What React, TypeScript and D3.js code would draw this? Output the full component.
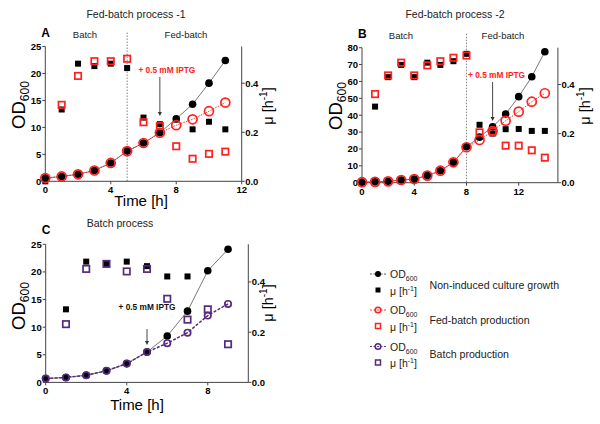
import React from "react";
import * as d3 from "d3";

// ---------- DATA ----------
const hoursA = [0, 1, 2, 3, 4, 5, 6, 7, 8, 9, 10, 11];
const odA_nonInduced = [0.6, 0.9, 1.3, 2.0, 3.4, 5.6, 7.1, 9.0, 11.6, 14.3, 18.2, 22.4];
const odA_fedBatch = [0.6, 0.9, 1.3, 2.0, 3.4, 5.6, 7.1, 9.0, 10.4, 11.5, 13.0, 14.6];
const muA_nonInduced = [0, 0.293, 0.48, 0.47, 0.48, 0.462, 0.26, 0.233, 0.252, 0.212, 0.243, 0.212];
const muHoursA_fed = [1, 2, 3, 4, 5, 6, 7, 8, 9, 10, 11];
const muA_fedBatch = [0.312, 0.43, 0.49, 0.49, 0.5, 0.241, 0.225, 0.143, 0.092, 0.112, 0.121];

const hoursB = [0, 1, 2, 3, 4, 5, 6, 7, 8, 9, 10, 11, 12, 13, 14];
const odB_nonInduced = [0.3, 0.5, 0.8, 1.6, 2.2, 4.2, 7.1, 12.1, 21.3, 27.0, 33.2, 40.7, 51.0, 62.8, 77.6];
const odB_fedBatch = [0.3, 0.5, 0.8, 1.6, 2.2, 4.2, 7.1, 12.1, 21.0, 25.3, 30.6, 36.7, 42.1, 48.0, 53.0];
const muHoursB = [1, 2, 3, 4, 5, 6, 7, 8, 9, 10, 11, 12, 13, 14];
const muB_nonInduced = [0.31, 0.43, 0.48, 0.43, 0.489, 0.48, 0.495, 0.525, 0.236, 0.2, 0.218, 0.219, 0.211, 0.211];
const muB_fedBatch = [0.361, 0.437, 0.489, 0.437, 0.478, 0.495, 0.509, 0.518, 0.205, 0.209, 0.151, 0.151, 0.132, 0.102];

const hoursC = [0, 1, 2, 3, 4, 5, 6, 7, 8, 9];
const odC_nonInduced = [0.7, 0.9, 1.3, 2.1, 3.4, 5.5, 8.4, 12.9, 20.2, 24.1];
const odC_batch = [0.7, 0.9, 1.3, 2.1, 3.4, 5.5, 7.1, 9.0, 12.1, 14.2];
const muHoursC_non = [1, 2, 3, 4, 5, 6, 7];
const muC_nonInduced = [0.291, 0.481, 0.472, 0.481, 0.463, 0.422, 0.422];
const muHoursC_batch = [1, 2, 3, 4, 5, 6, 7, 8, 9];
const muC_batch = [0.232, 0.452, 0.472, 0.442, 0.452, 0.333, 0.25, 0.291, 0.152];

const xTicksA = [0, 4, 8, 12];
const xTicksB = [0, 4, 8, 12];
const xTicksC = [0, 4, 8];
const yTicksA = [0, 5, 10, 15, 20, 25];
const yTicksB = [0, 10, 20, 30, 40, 50, 60, 70, 80];
const yTicksC = [0, 5, 10, 15, 20, 25];
const muTicks = [0.0, 0.2, 0.4];

const legendGroups = ["Non-induced culture growth", "Fed-batch production", "Batch production"];

// ---------- STYLE ----------
const FONT = "'Liberation Sans', Arial, Helvetica, sans-serif";
const BLACK = "#000";
const RED = "#ff2020";
const PURPLE = "#552a80";

type Series = {
  xs: number[];
  ys: number[];
  kind: "od" | "mu";
  color: string;
  filled: boolean;
  line?: { color: string; dash: string; width: number };
  r?: number;
};

type PanelProps = {
  x0: number; x1: number; y0: number; y1: number;
  xMax: number; yMax: number; muMax: number;
  xTicks: number[]; yTicks: number[];
  series: Series[];
  letter: string; title: string; titleX: number; titleY: number;
  phaseX?: number; batchX?: number; fedX?: number;
  iptgX: number; iptgDx: number; iptgTextY: number; arrowY0: number; arrowY1: number; iptgColor: string;
  timeLabelX?: number; timeLabelY?: number;
  odLabelX: number; odLabelY: number; muLabelX: number; muLabelY: number;
};

function Panel(p: PanelProps) {
  const xs = d3.scaleLinear().domain([0, p.xMax]).range([p.x0, p.x1]);
  const ys = d3.scaleLinear().domain([0, p.yMax]).range([p.y1, p.y0]);
  const ms = d3.scaleLinear().domain([0, p.muMax]).range([p.y1, p.y0]);

  const lines = p.series.filter((s) => s.line).map((s, i) => {
    const gen = d3.line<number>().x((_, j) => xs(s.xs[j])).y((v) => ys(v));
    return (
      <path key={"l" + i} d={gen(s.ys) || ""} fill="none" stroke={s.line!.color}
        strokeWidth={s.line!.width} strokeDasharray={s.line!.dash} />
    );
  });

  const marks = p.series.map((s, i) =>
    s.ys.map((v, j) => {
      const cx = xs(s.xs[j]);
      if (s.kind === "od") {
        const cy = ys(v);
        const r = s.r ?? 3.8;
        return s.filled ? (
          <circle key={`m${i}-${j}`} cx={cx} cy={cy} r={r} fill={s.color} />
        ) : (
          <circle key={`m${i}-${j}`} cx={cx} cy={cy} r={r} fill="none" stroke={s.color} strokeWidth={1.7} />
        );
      }
      const cy = ms(v);
      return s.filled ? (
        <rect key={`m${i}-${j}`} x={cx - 3} y={cy - 3} width={6} height={6} fill={s.color} />
      ) : (
        <rect key={`m${i}-${j}`} x={cx - 3.2} y={cy - 3.2} width={6.4} height={6.4} fill="none" stroke={s.color} strokeWidth={1.7} />
      );
    })
  );

  return (
    <g fontFamily={FONT}>
      <text x={p.titleX} y={p.titleY} fontSize={10.5} textAnchor="middle" fill="#222">{p.title}</text>
      <text x={p.x0 - 4} y={p.y0 - 10} fontSize={12} fontWeight="bold">{p.letter}</text>
      {p.phaseX !== undefined && (
        <>
          <line x1={xs(p.phaseX)} x2={xs(p.phaseX)} y1={p.y0 - 14} y2={p.y1} stroke="#777" strokeWidth={0.9} strokeDasharray="1.5,1.5" />
          <text x={p.batchX} y={p.y0 - 9} fontSize={9.5} textAnchor="middle" fill="#222">Batch</text>
          <text x={p.fedX} y={p.y0 - 9} fontSize={9.5} textAnchor="middle" fill="#222">Fed-batch</text>
        </>
      )}
      {/* axes */}
      <line x1={p.x0} x2={p.x0} y1={p.y0} y2={p.y1} stroke="#444" strokeWidth={1} />
      <line x1={p.x1} x2={p.x1} y1={p.y0} y2={p.y1} stroke="#444" strokeWidth={1} />
      <line x1={p.x0} x2={p.x1} y1={p.y1} y2={p.y1} stroke="#444" strokeWidth={1} />
      {p.yTicks.map((t) => (
        <g key={"yt" + t}>
          <line x1={p.x0 - 3} x2={p.x0} y1={ys(t)} y2={ys(t)} stroke="#444" />
          <text x={p.x0 - 4} y={ys(t) + 3.4} fontSize={9.5} fontWeight="bold" textAnchor="end">{t}</text>
        </g>
      ))}
      {muTicks.map((t) => (
        <g key={"mt" + t}>
          <line x1={p.x1} x2={p.x1 + 3} y1={ms(t)} y2={ms(t)} stroke="#444" />
          <text x={p.x1 + 3.5} y={ms(t) + 3.4} fontSize={9.5} fontWeight="bold">{t.toFixed(1)}</text>
        </g>
      ))}
      {p.xTicks.map((t) => (
        <g key={"xt" + t}>
          <line x1={xs(t)} x2={xs(t)} y1={p.y1} y2={p.y1 + 3} stroke="#444" />
          <text x={xs(t)} y={p.y1 + 12} fontSize={9.5} fontWeight="bold" textAnchor="middle">{t}</text>
        </g>
      ))}
      {/* axis labels */}
      <text transform={`translate(${p.odLabelX},${p.odLabelY}) rotate(-90)`} fontSize={18.5} textAnchor="middle">
        OD<tspan fontSize={12} dy={4}>600</tspan>
      </text>
      <text transform={`translate(${p.muLabelX},${p.muLabelY}) rotate(-90)`} fontSize={14.5} textAnchor="middle">
        μ [h<tspan fontSize={10} dy={-6}>-1</tspan><tspan dy={6}>]</tspan>
      </text>
      {p.timeLabelY !== undefined && (
        <text x={p.timeLabelX} y={p.timeLabelY} fontSize={15} textAnchor="middle">Time [h]</text>
      )}
      {lines}
      {marks}
      {/* IPTG annotation */}
      <text x={xs(p.iptgX) + p.iptgDx} y={p.iptgTextY} fontSize={8.3} fontWeight="bold" textAnchor="middle" fill={p.iptgColor}>+ 0.5 mM IPTG</text>
      <line x1={xs(p.iptgX)} x2={xs(p.iptgX)} y1={p.arrowY0} y2={p.arrowY1 - 3} stroke="#333" strokeWidth={0.9} />
      <path d={`M${xs(p.iptgX) - 2},${p.arrowY1 - 4} L${xs(p.iptgX) + 2},${p.arrowY1 - 4} L${xs(p.iptgX)},${p.arrowY1} Z`} fill="#333" />
    </g>
  );
}

const blackLine = { color: "#555", dash: "", width: 0.8 };
const redLine = { color: RED, dash: "1.5,1.2", width: 0.9 };
const purpleLine = { color: PURPLE, dash: "3,1.5", width: 1.5 };

export default function App() {
  const legendX = 378;
  const rows = [
    { y: 274, color: BLACK, line: "#444", filledC: true, filledS: true, labelY: 289 },
    { y: 310, color: RED, line: RED, filledC: false, filledS: false, labelY: 323.5 },
    { y: 346.5, color: PURPLE, line: PURPLE, filledC: false, filledS: false, labelY: 358 },
  ];
  return (
    <svg width={600} height={424} style={{ position: "absolute", left: 0, top: 0 }}>
      <rect width={600} height={424} fill="#fff" />
      <Panel
        x0={45.3} x1={241.7} y0={46.5} y1={181.3} xMax={12} yMax={25} muMax={0.55}
        xTicks={xTicksA} yTicks={yTicksA}
        series={[
          { xs: hoursA, ys: odA_nonInduced, kind: "od", color: BLACK, filled: true, line: blackLine, r: 3.8 },
          { xs: hoursA, ys: muA_nonInduced, kind: "mu", color: BLACK, filled: true },
          { xs: hoursA, ys: odA_fedBatch, kind: "od", color: RED, filled: false, line: redLine, r: 4.5 },
          { xs: muHoursA_fed, ys: muA_fedBatch, kind: "mu", color: RED, filled: false },
        ]}
        letter="A" title="Fed-batch process -1" titleX={136} titleY={17.5}
        phaseX={5} batchX={85} fedX={186}
        iptgX={7} iptgDx={7} iptgTextY={73} arrowY0={77} arrowY1={116} iptgColor={RED}
        timeLabelX={141} timeLabelY={206} odLabelX={25} odLabelY={105} muLabelX={273} muLabelY={106}
      />
      <Panel
        x0={362} x1={557.9} y0={47.7} y1={182.7} xMax={15} yMax={80} muMax={0.55}
        xTicks={xTicksB} yTicks={yTicksB}
        series={[
          { xs: hoursB, ys: odB_nonInduced, kind: "od", color: BLACK, filled: true, line: blackLine, r: 3.8 },
          { xs: muHoursB, ys: muB_nonInduced, kind: "mu", color: BLACK, filled: true },
          { xs: hoursB, ys: odB_fedBatch, kind: "od", color: RED, filled: false, line: redLine, r: 4.5 },
          { xs: muHoursB, ys: muB_fedBatch, kind: "mu", color: RED, filled: false },
        ]}
        letter="B" title="Fed-batch process -2" titleX={455} titleY={17.5}
        phaseX={8} batchX={401} fedX={503}
        iptgX={10} iptgDx={4} iptgTextY={78} arrowY0={82} arrowY1={121} iptgColor={RED}
        odLabelX={342} odLabelY={106} muLabelX={590} muLabelY={106}
      />
      <Panel
        x0={45.7} x1={248.3} y0={244.3} y1={382.4} xMax={10} yMax={25} muMax={0.55}
        xTicks={xTicksC} yTicks={yTicksC}
        series={[
          { xs: hoursC, ys: odC_nonInduced, kind: "od", color: BLACK, filled: true, line: blackLine, r: 3.8 },
          { xs: muHoursC_non, ys: muC_nonInduced, kind: "mu", color: BLACK, filled: true },
          { xs: hoursC, ys: odC_batch, kind: "od", color: PURPLE, filled: false, line: purpleLine, r: 3.2 },
          { xs: muHoursC_batch, ys: muC_batch, kind: "mu", color: PURPLE, filled: false },
        ]}
        letter="C" title="Batch process" titleX={120} titleY={227}
        iptgX={5} iptgDx={0} iptgTextY={310} arrowY0={329} arrowY1={345} iptgColor="#111"
        timeLabelX={137} timeLabelY={410} odLabelX={25} odLabelY={306} muLabelX={273} muLabelY={303}
      />
      {/* Legend */}
      <g fontFamily={FONT} fill="#222">
        {rows.map((r, i) => (
          <g key={"lg" + i}>
            <line x1={legendX - 8} x2={legendX + 8} y1={r.y} y2={r.y} stroke={r.line} strokeWidth={0.9} strokeDasharray="2,1.5" />
            {r.filledC ? (
              <circle cx={legendX} cy={r.y} r={3} fill={r.color} />
            ) : (
              <circle cx={legendX} cy={r.y} r={2.8} fill="none" stroke={r.color} strokeWidth={1.6} />
            )}
            <text x={legendX + 12} y={r.y + 4} fontSize={10.5}>
              OD<tspan fontSize={7} dy={3}>600</tspan>
            </text>
            {r.filledS ? (
              <rect x={legendX - 2.5} y={r.y + 13.5} width={5} height={5} fill={r.color} />
            ) : (
              <rect x={legendX - 2.5} y={r.y + 13.5} width={5} height={5} fill="none" stroke={r.color} strokeWidth={1.5} />
            )}
            <text x={legendX + 12} y={r.y + 20.5} fontSize={10.5}>
              μ [h<tspan fontSize={7} dy={-4}>-1</tspan><tspan dy={4}>]</tspan>
            </text>
            <text x={429.5} y={r.labelY} fontSize={10.6}>{legendGroups[i]}</text>
          </g>
        ))}
      </g>
    </svg>
  );
}
